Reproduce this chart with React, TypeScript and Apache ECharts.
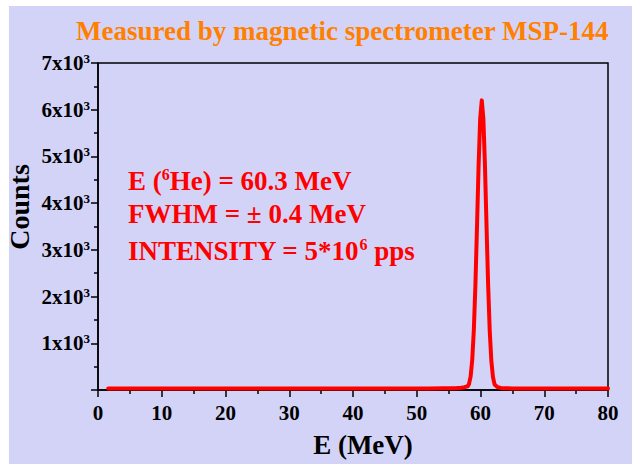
import React, { useEffect, useRef } from "react";
import * as echarts from "echarts";

const energy: number[] = [
  1.6, 4, 6, 8, 10, 12, 14, 16, 18, 20, 22, 24, 26, 28, 30, 32, 34, 36, 38, 40,
  42, 44, 46, 48, 50, 52, 54, 56, 57, 57.5, 58, 58.2, 58.45, 58.7, 58.95, 59.2,
  59.45, 59.7, 59.95, 60.2, 60.45, 60.7, 60.95, 61.2, 61.45, 61.7, 61.95, 62.2,
  62.7, 63.2, 64, 65, 66, 68, 70, 72, 74, 76, 78, 80,
];
const counts: number[] = [
  30, 30, 31, 30, 30, 31, 30, 30, 31, 30, 30, 31, 30, 30, 31, 30, 30, 31, 30, 31,
  31, 32, 32, 33, 33, 34, 36, 40, 48, 60, 80, 130, 290, 640, 1270, 2240,
  3490, 4800, 5810, 6200, 5810, 4800, 3490, 2240, 1260, 630, 280, 120,
  60, 45, 38, 34, 32, 31, 30, 30, 30, 30, 30, 30,
];

const xTicks = { min: 0, max: 80, interval: 10 };
const yTicks = { min: 0, max: 7000, interval: 1000 };

const titleText = "Measured by magnetic spectrometer MSP-144";
const xName = "E (MeV)";
const yName = "Counts";
const annotationLines: string[] = [
  "{t|E (}{s|6}{t|He) = 60.3 MeV}",
  "{t|FWHM = \u00b1 0.4 MeV}",
  "{t|INTENSITY = 5*10}{s|6}{t| pps}",
];

const FONT = "'Liberation Serif', 'Times New Roman', serif";
const BG = "#d3d3f7";

export default function App() {
  const ref = useRef<HTMLDivElement>(null);
  useEffect(() => {
    if (!ref.current) return;
    const chart = echarts.init(ref.current, undefined, { renderer: "svg" });
    const data = energy.map((e, i) => [e, counts[i]]);
    const annRich = {
      t: { fontSize: 27, fontWeight: "bold", fontFamily: FONT, fill: "#ff0000", lineHeight: 30 },
      s: { fontSize: 16, fontWeight: "bold", fontFamily: FONT, fill: "#ff0000", lineHeight: 30, verticalAlign: "top" },
    };
    const annY = [175, 209, 245];
    chart.setOption({
      animation: false,
      backgroundColor: BG,
      title: {
        text: titleText,
        left: 62,
        top: 6,
        textStyle: { color: "#ff8000", fontSize: 27, fontWeight: "bold", fontFamily: FONT },
      },
      grid: {
        left: 89,
        top: 57,
        right: 24,
        bottom: 74,
        show: true,
        borderColor: "#000",
        borderWidth: 1.5,
        backgroundColor: "transparent",
        containLabel: false,
        outerBoundsMode: "none",
      },
      xAxis: {
        type: "value",
        min: xTicks.min,
        max: xTicks.max,
        interval: xTicks.interval,
        name: xName,
        nameLocation: "middle",
        nameGap: 41,
        nameTextStyle: { color: "#000", fontSize: 27, fontWeight: "bold", fontFamily: FONT, padding: [0, 0, 0, 20] },
        axisLine: { show: true, lineStyle: { color: "#000", width: 1.5 } },
        axisTick: { show: true, length: 7, lineStyle: { color: "#000", width: 1.5 } },
        minorTick: { show: true, splitNumber: 2, length: 4, lineStyle: { color: "#000", width: 1.5 } },
        splitLine: { show: false },
        axisLabel: { color: "#000", fontSize: 21, fontWeight: "bold", fontFamily: FONT, margin: 12 },
      },
      yAxis: {
        type: "value",
        min: yTicks.min,
        max: yTicks.max,
        interval: yTicks.interval,
        axisLine: { show: true, lineStyle: { color: "#000", width: 1.5 } },
        axisTick: { show: true, length: 7, lineStyle: { color: "#000", width: 1.5 } },
        minorTick: { show: true, splitNumber: 2, length: 4, lineStyle: { color: "#000", width: 1.5 } },
        splitLine: { show: false },
        axisLabel: {
          margin: 8,
          formatter: (v: number) => (v === 0 ? "" : `{b|${v / 1000}x10}{s|3}`),
          rich: {
            b: { color: "#000", fontSize: 21, fontWeight: "bold", fontFamily: FONT, lineHeight: 22 },
            s: { color: "#000", fontSize: 13, fontWeight: "bold", fontFamily: FONT, lineHeight: 22, verticalAlign: "top" },
          },
        },
      },
      graphic: [
        ...annotationLines.map((txt, i) => ({
          type: "text",
          left: 119,
          top: annY[i] - 15,
          style: { text: txt, rich: annRich },
          z: 10,
        })),
        {
          type: "text",
          x: 10,
          y: 201,
          rotation: Math.PI / 2,
          style: {
            text: yName,
            fill: "#000",
            fontSize: 28,
            fontWeight: "bold",
            fontFamily: FONT,
            align: "center",
            verticalAlign: "middle",
          },
          z: 10,
        },
      ],
      series: [
        {
          type: "line",
          data,
          showSymbol: false,
          symbol: "none",
          lineStyle: { color: "#ff0000", width: 4, join: "round", cap: "round" },
          itemStyle: { color: "#ff0000" },
        },
      ],
    });
    return () => chart.dispose();
  }, []);
  return (
    <div
      ref={ref}
      style={{ position: "absolute", left: 9, top: 6, width: 623, height: 458, background: BG }}
    />
  );
}
